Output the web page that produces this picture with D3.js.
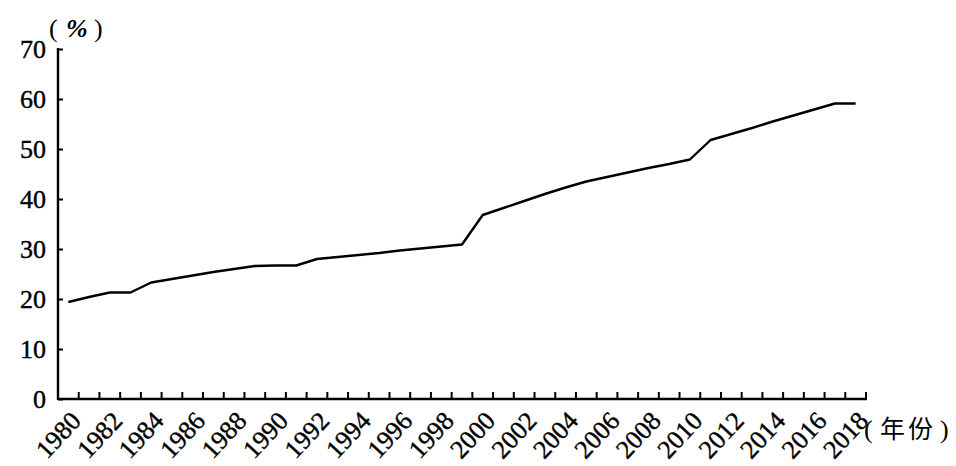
<!DOCTYPE html>
<html><head><meta charset="utf-8">
<script src="https://cdn.jsdelivr.net/npm/d3@7"></script>
<style>body{margin:0;background:#fff}svg{display:block}</style>
</head><body>
<svg id="c" width="956" height="466"></svg>
<script>
const years = d3.range(1980, 2019);
const rate = [19.4,20.4,21.3,21.3,23.3,24.0,24.7,25.4,26.0,26.6,26.7,26.7,28.0,28.4,28.8,29.2,29.7,30.1,30.5,30.9,
  36.8,38.2,39.6,41.0,42.3,43.5,44.4,45.3,46.2,47.0,47.9,51.8,53.0,54.2,55.5,56.7,57.9,59.1,59.1];
const yTicks = [0,10,20,30,40,50,60,70];
const xLabels = d3.range(1980, 2019, 2);
const yUnit = "%";
const xUnit = "年份";

const svg = d3.select("#c");
const L = 58, R = 866, T = 49, B = 399;
const x = d3.scaleBand().domain(years).range([L, R]).padding(0);
const y = d3.scaleLinear().domain([0, 70]).range([B, T]);
const serif = "'Liberation Serif','Times New Roman',serif";
const cjk = "'Noto Sans CJK SC',sans-serif";

// y axis
const ya = svg.append("g").attr("transform", `translate(${L},0)`)
  .call(d3.axisRight(y).tickValues(yTicks).tickSize(5).tickFormat(""));
ya.select(".domain").remove();
ya.selectAll("line").attr("stroke", "#000").attr("stroke-width", 2);
svg.append("line").attr("x1", L).attr("x2", L).attr("y1", T - 1).attr("y2", B + 1)
  .attr("stroke", "#000").attr("stroke-width", 2.4);
svg.selectAll(".ylab").data(yTicks).join("text").attr("class", "ylab")
  .attr("x", L - 12).attr("y", d => y(d)).attr("dy", "0.34em")
  .attr("text-anchor", "end").attr("font-family", serif).attr("font-size", 26)
  .attr("stroke", "#000").attr("stroke-width", 0.4).text(d => d);

// x axis
const edges = years.map(d => x(d)).concat([R]);
svg.append("line").attr("x1", L).attr("x2", R + 1).attr("y1", B).attr("y2", B)
  .attr("stroke", "#000").attr("stroke-width", 2.4);
svg.selectAll(".xt").data(edges.slice(1)).join("line").attr("class", "xt")
  .attr("x1", d => d).attr("x2", d => d).attr("y1", B).attr("y2", B - 7)
  .attr("stroke", "#000").attr("stroke-width", 2);
svg.selectAll(".xlab").data(xLabels).join("text").attr("class", "xlab")
  .attr("transform", d => `translate(${x(d) + x.bandwidth() / 2 + 14},${B + 23}) rotate(-47)`)
  .attr("text-anchor", "end").attr("font-family", serif).attr("font-size", 26)
  .attr("stroke", "#000").attr("stroke-width", 0.4).text(d => d);

// line
const line = d3.line().x((d, i) => x(years[i]) + x.bandwidth() / 2).y(d => y(d));
svg.append("path").datum(rate).attr("d", line).attr("fill", "none")
  .attr("stroke", "#000").attr("stroke-width", 2.4).attr("stroke-linejoin", "round");

// units
const yu = svg.append("text").attr("y", 37).attr("font-family", serif).attr("font-size", 26);
yu.append("tspan").attr("x", 49).text("(");
yu.append("tspan").attr("x", 66).attr("font-style", "italic").attr("font-weight", "bold").text(yUnit);
yu.append("tspan").attr("x", 94).text(")");
const xu = svg.append("text").attr("y", 438).attr("font-size", 26);
xu.append("tspan").attr("x", 864).attr("font-family", serif).text("(");
xu.append("tspan").attr("x", 880).attr("font-family", cjk).attr("font-size", 25).attr("letter-spacing", 3).text(xUnit);
xu.append("tspan").attr("x", 940).attr("font-family", serif).text(")");
</script>
</body></html>
